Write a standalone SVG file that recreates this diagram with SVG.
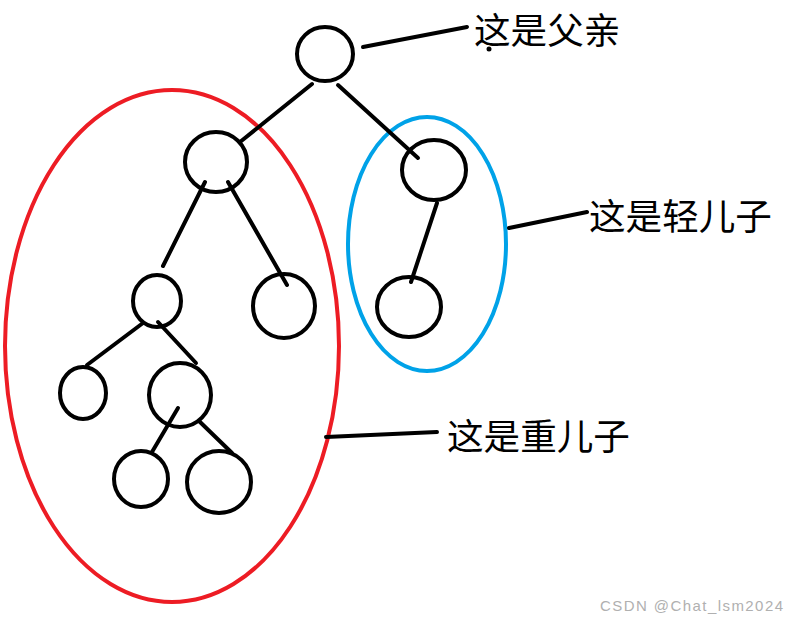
<svg xmlns="http://www.w3.org/2000/svg" width="799" height="630" viewBox="0 0 799 630">
<style>
.n{fill:none;stroke:#000;stroke-width:4}
.c line{stroke:#000;stroke-width:4;stroke-linecap:round}
.lbl{font-family:"Microsoft YaHei","Noto Sans CJK SC","Noto Sans",sans-serif;font-size:36.6px;fill:#000}
.wm{font-family:"Liberation Sans",Arial,sans-serif;font-size:15px;fill:#b0b0b0}
</style>
<rect width="799" height="630" fill="#fff"/>
<g id="heavy-group"><ellipse cx="172" cy="346" rx="167" ry="256" fill="none" stroke="#ed1c24" stroke-width="4"/></g>
<g id="light-group"><ellipse cx="427" cy="244" rx="79" ry="127" fill="none" stroke="#00a2e8" stroke-width="4"/></g>
<g id="connectors" class="c">
<line x1="312" y1="84" x2="240" y2="142"/>
<line x1="338" y1="85" x2="418" y2="158"/>
<line x1="205" y1="182" x2="163" y2="266"/>
<line x1="228" y1="182" x2="287" y2="285"/>
<line x1="437" y1="203" x2="411" y2="282"/>
<line x1="143" y1="323" x2="87" y2="365"/>
<line x1="158" y1="322" x2="196" y2="363"/>
<line x1="178" y1="408" x2="152" y2="452"/>
<line x1="199" y1="421" x2="232" y2="453"/>
<line x1="363" y1="47" x2="467" y2="27"/>
<line x1="509" y1="228" x2="587" y2="212"/>
<line x1="326" y1="437" x2="437" y2="432"/>
</g>
<g id="root"><ellipse class="n" cx="325" cy="54" rx="28" ry="27"/></g>
<g id="heavy-child"><ellipse class="n" cx="216" cy="162" rx="31" ry="30"/></g>
<g id="light-child"><ellipse class="n" cx="434" cy="170" rx="32" ry="30"/></g>
<g id="node-a"><ellipse class="n" cx="157" cy="301" rx="24" ry="26"/></g>
<g id="node-b"><ellipse class="n" cx="284" cy="306" rx="31" ry="32"/></g>
<g id="node-c"><ellipse class="n" cx="409" cy="307" rx="32" ry="30"/></g>
<g id="node-d"><ellipse class="n" cx="83" cy="393" rx="23" ry="26"/></g>
<g id="node-e"><ellipse class="n" cx="180" cy="395" rx="31" ry="32"/></g>
<g id="node-f"><ellipse class="n" cx="141" cy="479" rx="27" ry="28"/></g>
<g id="node-g"><ellipse class="n" cx="219" cy="482" rx="32" ry="31"/></g>
<g id="labels">
<text class="lbl" x="474" y="44">这是父亲</text>
<circle cx="489" cy="49" r="2.5" fill="#000"/>
<text class="lbl" x="589" y="230">这是轻儿子</text>
<text class="lbl" x="447" y="450">这是重儿子</text>
<text class="wm" x="600" y="611" textLength="183" lengthAdjust="spacing">CSDN @Chat_lsm2024</text>
</g>
</svg>
